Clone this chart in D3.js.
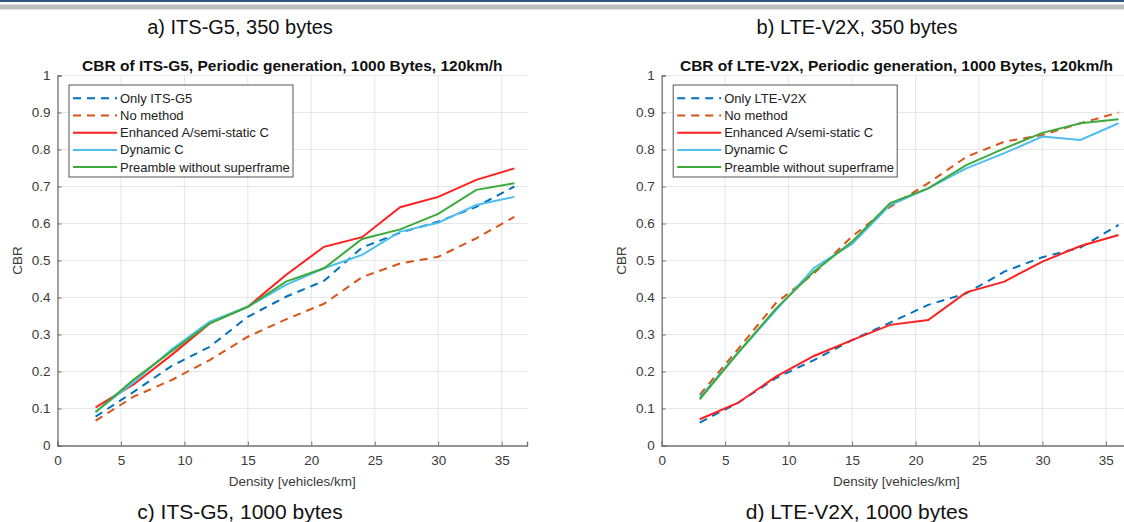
<!DOCTYPE html>
<html>
<head>
<meta charset="utf-8">
<script src="https://cdn.jsdelivr.net/npm/d3@7"></script>
<style>
  html, body { margin: 0; padding: 0; background: #fff; }
  svg { display: block; font-family: "Liberation Sans", Arial, sans-serif; }
</style>
</head>
<body>
<svg id="chart" width="1124" height="522"></svg>
<script>
// density values on the x axis
const density = [3, 6, 9, 12, 15, 18, 21, 24, 27, 30, 33, 36];

// ITS-G5 panel
const itsOnly     = [0.078, 0.145, 0.215, 0.267, 0.348, 0.402, 0.445, 0.535, 0.575, 0.605, 0.645, 0.700];
const itsNoMethod = [0.067, 0.132, 0.177, 0.231, 0.294, 0.341, 0.383, 0.455, 0.492, 0.510, 0.560, 0.618];
const itsEnhanced = [0.103, 0.165, 0.245, 0.330, 0.375, 0.461, 0.537, 0.563, 0.644, 0.672, 0.718, 0.749];
const itsDynamic  = [0.091, 0.170, 0.260, 0.335, 0.375, 0.434, 0.479, 0.515, 0.578, 0.602, 0.650, 0.672];
const itsPreamble = [0.090, 0.178, 0.255, 0.330, 0.375, 0.443, 0.479, 0.558, 0.584, 0.626, 0.691, 0.709];

// LTE-V2X panel
const lteOnly     = [0.062, 0.115, 0.182, 0.231, 0.285, 0.332, 0.380, 0.411, 0.470, 0.509, 0.535, 0.596];
const lteNoMethod = [0.137, 0.260, 0.385, 0.465, 0.565, 0.645, 0.709, 0.780, 0.821, 0.839, 0.871, 0.900];
const lteEnhanced = [0.071, 0.115, 0.186, 0.242, 0.285, 0.326, 0.339, 0.414, 0.443, 0.497, 0.539, 0.569];
const lteDynamic  = [0.130, 0.250, 0.365, 0.480, 0.545, 0.650, 0.695, 0.749, 0.790, 0.835, 0.826, 0.871];
const ltePreamble = [0.125, 0.250, 0.370, 0.470, 0.551, 0.655, 0.695, 0.758, 0.803, 0.845, 0.871, 0.882];

const xTicks = [0, 5, 10, 15, 20, 25, 30, 35];
const yTicks = [0, 0.1, 0.2, 0.3, 0.4, 0.5, 0.6, 0.7, 0.8, 0.9, 1];

const styles = [
  {color: "#0072BD", dash: "8,6"},
  {color: "#D95319", dash: "8,6"},
  {color: "#FF1F1F", dash: null},
  {color: "#4DBEEE", dash: null},
  {color: "#3DAA3D", dash: null}
];

const svg = d3.select("#chart");

// slide decoration at the top
svg.append("rect").attr("x", 0).attr("y", 0).attr("width", 1124).attr("height", 2).attr("fill", "#34577f");
svg.append("rect").attr("x", 0).attr("y", 4.5).attr("width", 1124).attr("height", 5).attr("fill", "#bfbfbf");

function drawPanel(opts) {
  const g = svg.append("g");
  const x = d3.scaleLinear().domain([0, 37]).range([opts.left, opts.left + 37 * 12.69]);
  const y = d3.scaleLinear().domain([0, 1]).range([445.5, 75.5]);

  // grid
  g.append("g").selectAll("line").data(xTicks.slice(1)).join("line")
    .attr("x1", d => x(d)).attr("x2", d => x(d))
    .attr("y1", y(0)).attr("y2", y(1))
    .attr("stroke", "#e6e6e6").attr("stroke-width", 1);
  g.append("g").selectAll("line").data(yTicks.slice(1)).join("line")
    .attr("x1", x(0)).attr("x2", x(37))
    .attr("y1", d => y(d)).attr("y2", d => y(d))
    .attr("stroke", "#e6e6e6").attr("stroke-width", 1);

  // axes
  const xAxis = g.append("g").attr("transform", `translate(0,${y(0)})`)
    .call(d3.axisBottom(x).tickValues(xTicks).tickSize(-4).tickPadding(10).tickFormat(d3.format("d")));
  const yAxis = g.append("g").attr("transform", `translate(${x(0)},0)`)
    .call(d3.axisLeft(y).tickValues(yTicks).tickSize(-4).tickPadding(7).tickFormat(d => d === 0 || d === 1 ? String(d) : d3.format(".1f")(d)));
  [xAxis, yAxis].forEach(a => {
    a.select(".domain").attr("stroke", "#707070").attr("stroke-width", 1.3);
    a.selectAll(".tick line").attr("stroke", "#707070");
    a.selectAll(".tick text").attr("fill", "#3a3a3a").style("font-size", "13.5px")
      .style("font-family", "'Liberation Sans', Arial, sans-serif");
  });

  // lines
  const line = d3.line().x((d, i) => x(density[i])).y(d => y(d));
  opts.series.forEach((s, i) => {
    g.append("path").datum(s.values)
      .attr("d", line)
      .attr("fill", "none")
      .attr("stroke", styles[i].color)
      .attr("stroke-width", 2)
      .attr("stroke-dasharray", styles[i].dash);
  });

  // title and labels
  const cx = (x(0) + x(37)) / 2;
  g.append("text").attr("x", cx).attr("y", 71).attr("text-anchor", "middle")
    .style("font-size", "15.5px").style("font-weight", "bold").attr("fill", "#111")
    .text(opts.title);
  g.append("text").attr("x", cx).attr("y", 486).attr("text-anchor", "middle")
    .style("font-size", "13.5px").attr("fill", "#3a3a3a").text("Density [vehicles/km]");
  g.append("text").attr("transform", `translate(${x(0) - 36},${(y(0) + y(1)) / 2}) rotate(-90)`)
    .attr("text-anchor", "middle").style("font-size", "13.5px").attr("fill", "#3a3a3a").text("CBR");

  // legend
  const lx = x(0) + 11.5, ly = 85;
  const lg = g.append("g").attr("transform", `translate(${lx},${ly})`);
  lg.append("rect").attr("width", 224).attr("height", 92)
    .attr("fill", "#fff").attr("stroke", "#555").attr("stroke-width", 1);
  opts.series.forEach((s, i) => {
    const ry = 13.3 + i * 17.2;
    lg.append("line").attr("x1", 4).attr("x2", 48).attr("y1", ry).attr("y2", ry)
      .attr("stroke", styles[i].color).attr("stroke-width", 2)
      .attr("stroke-dasharray", styles[i].dash);
    lg.append("text").attr("x", 51).attr("y", ry + 4.5)
      .style("font-size", "13px").attr("fill", "#222").text(s.name);
  });

  // captions above and below
  svg.append("text").attr("x", opts.capX).attr("y", 34).attr("text-anchor", "middle")
    .style("font-size", "20px").attr("fill", "#111").text(opts.capTop);
  svg.append("text").attr("x", opts.capX).attr("y", 519).attr("text-anchor", "middle")
    .style("font-size", "21px").attr("fill", "#111").text(opts.capBottom);
}

drawPanel({
  left: 57.5,
  title: "CBR of ITS-G5, Periodic generation, 1000 Bytes, 120km/h",
  capX: 240, capTop: "a) ITS-G5, 350 bytes", capBottom: "c) ITS-G5, 1000 bytes",
  series: [
    {name: "Only ITS-G5", values: itsOnly},
    {name: "No method", values: itsNoMethod},
    {name: "Enhanced A/semi-static C", values: itsEnhanced},
    {name: "Dynamic C", values: itsDynamic},
    {name: "Preamble without superframe", values: itsPreamble}
  ]
});

drawPanel({
  left: 661.7,
  title: "CBR of LTE-V2X, Periodic generation, 1000 Bytes, 120km/h",
  capX: 857, capTop: "b) LTE-V2X, 350 bytes", capBottom: "d) LTE-V2X, 1000 bytes",
  series: [
    {name: "Only LTE-V2X", values: lteOnly},
    {name: "No method", values: lteNoMethod},
    {name: "Enhanced A/semi-static C", values: lteEnhanced},
    {name: "Dynamic C", values: lteDynamic},
    {name: "Preamble without superframe", values: ltePreamble}
  ]
});
</script>
</body>
</html>
